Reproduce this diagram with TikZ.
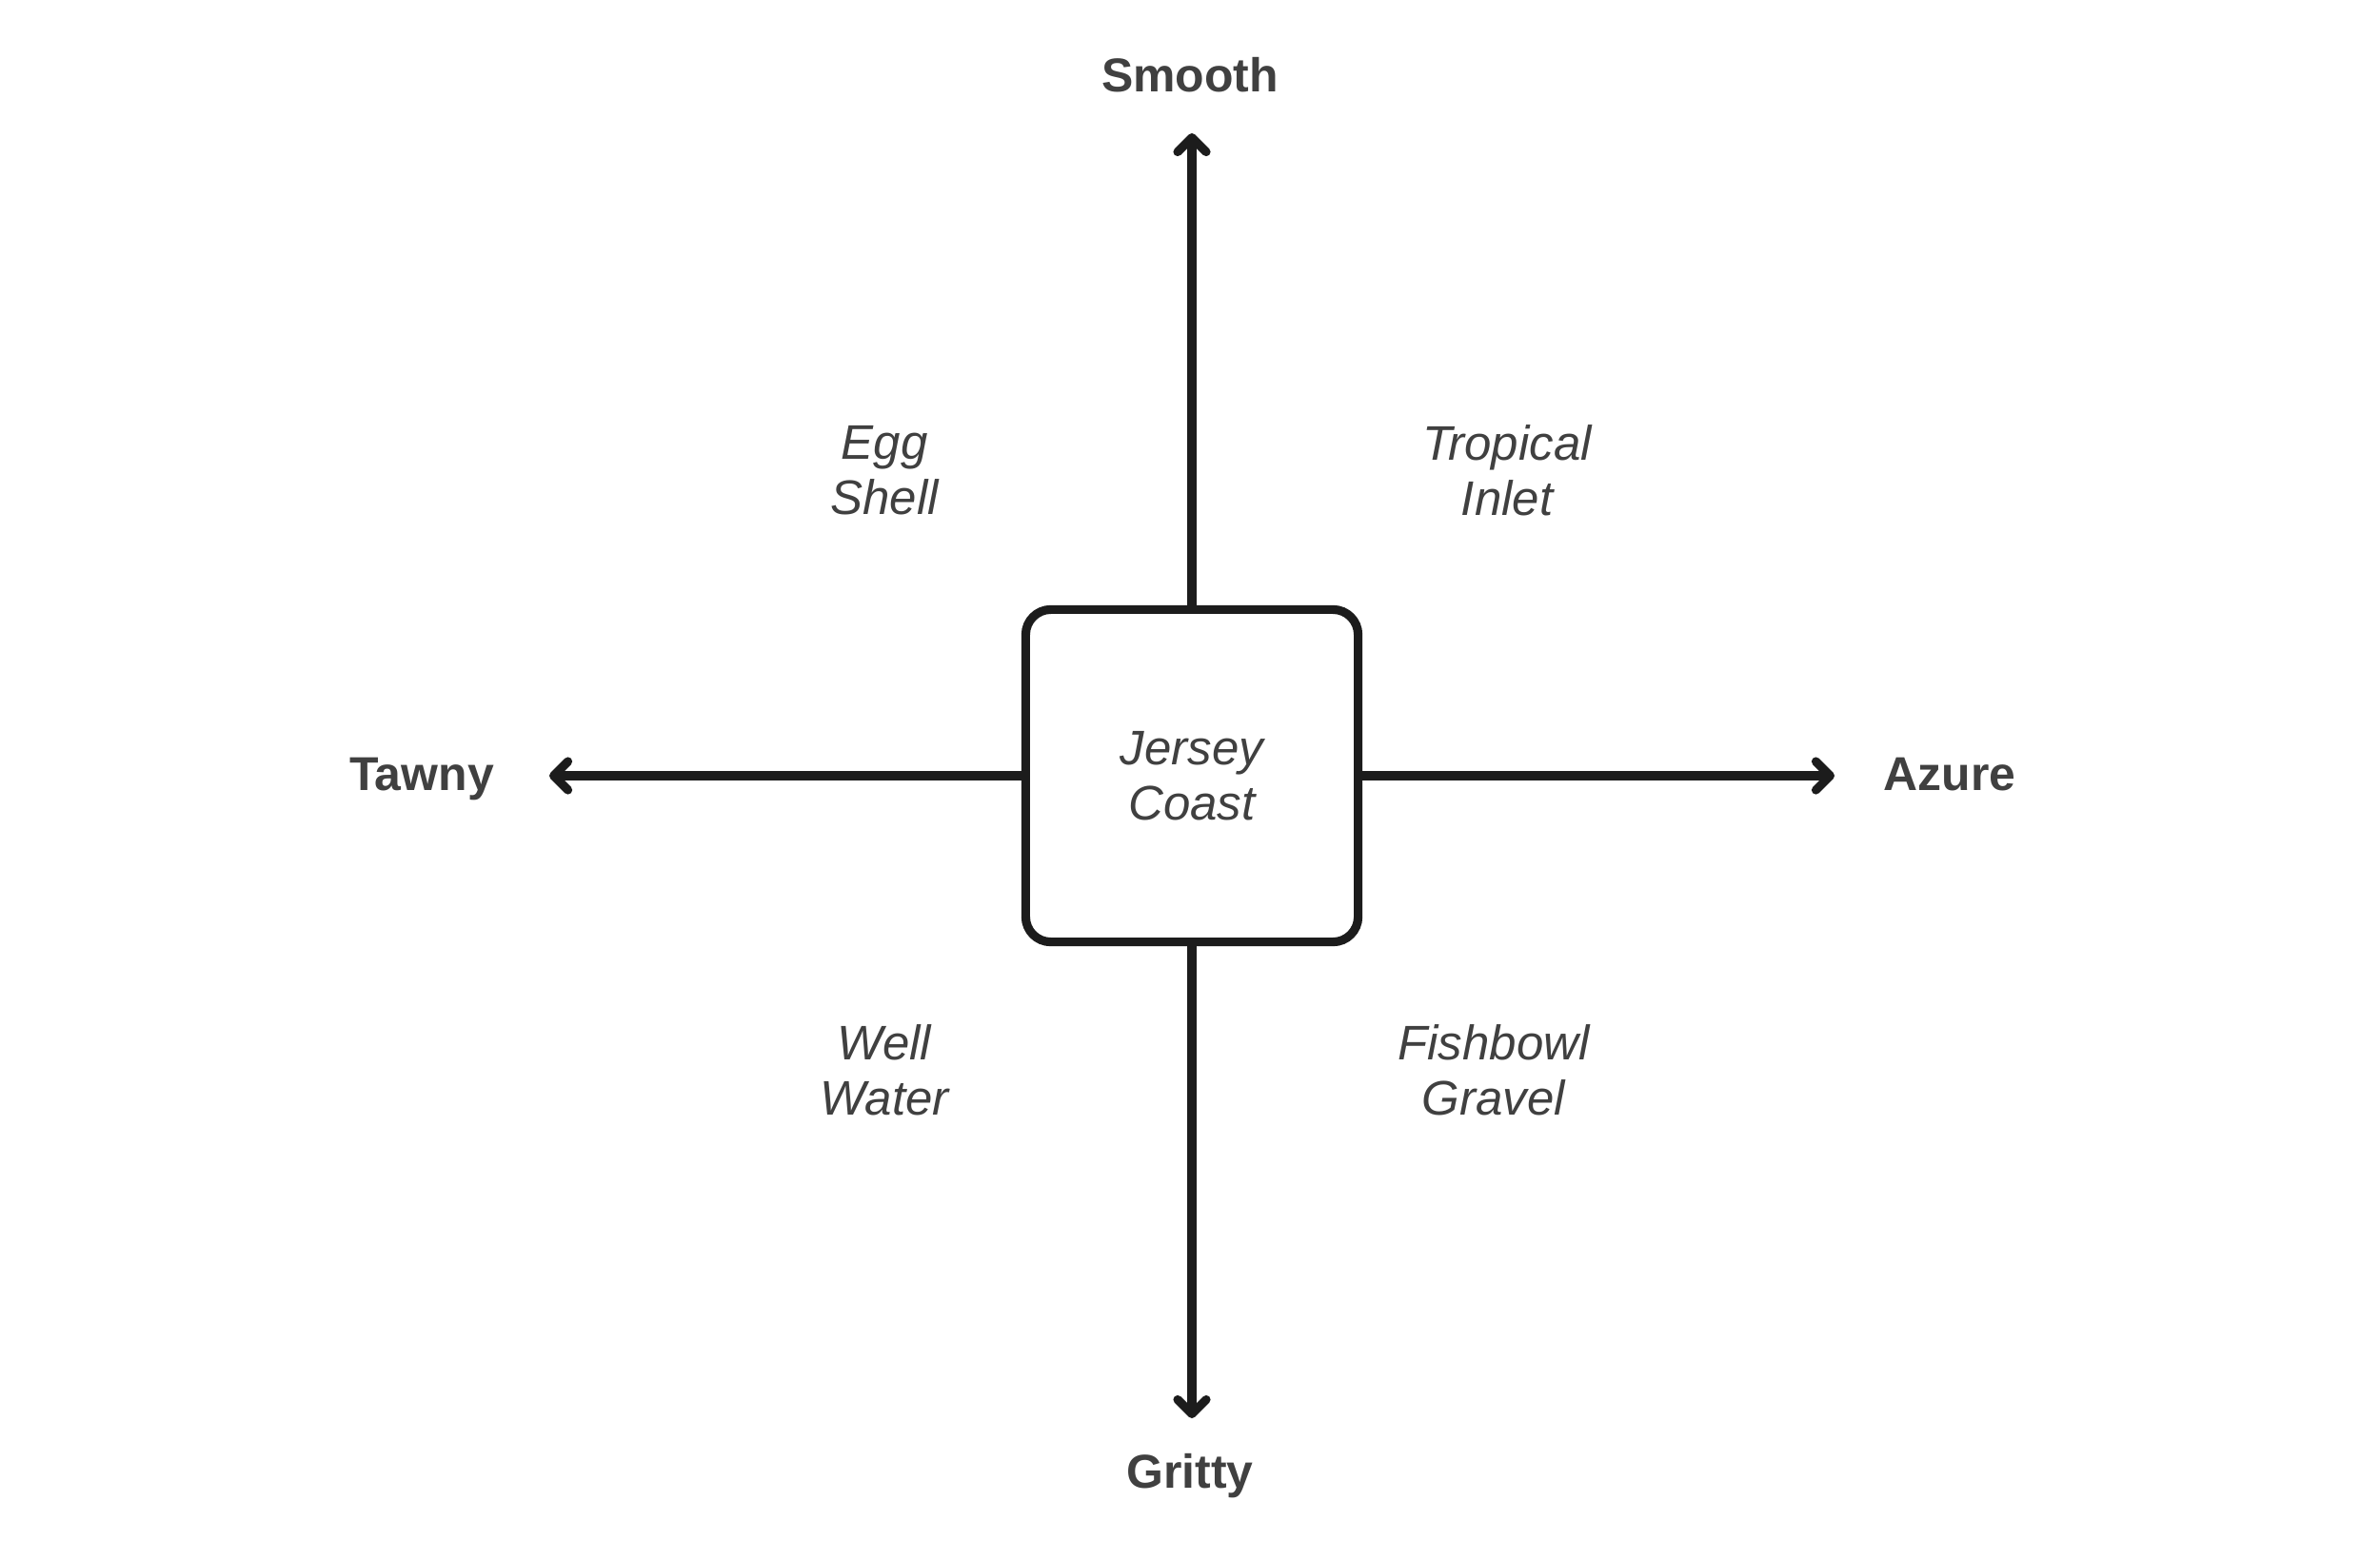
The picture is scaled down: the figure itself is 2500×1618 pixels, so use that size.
\documentclass[tikz,border=0pt]{standalone}
\usepackage{fontspec}
\setmainfont{Liberation Sans}
\usetikzlibrary{arrows.meta}
\definecolor{cInk} {RGB}{ 28, 28, 28}
\definecolor{cText}{RGB}{ 64, 64, 64}
\tikzset{
  hub/.style  = {draw=cInk, line width=2.6pt, rounded corners=7.5pt,
                 minimum width=3.49cm, minimum height=3.49cm, fill=white,
                 align=center, text=cText,
                 font=\fontsize{14.5}{16.5}\selectfont\itshape},
  pole/.style = {font=\fontsize{14.2}{16}\selectfont\bfseries, text=cText},
  zone/.style = {font=\fontsize{14.5}{16.5}\selectfont\itshape, text=cText,
                 align=center},
  axis/.style = {-{Straight Barb[length=1.5mm,width=3mm,round]}, cInk,
                 line width=2.6pt},
}

\begin{document}
\begin{tikzpicture}[x=0.01cm, y=-0.01cm]
  \useasboundingbox (0,0) rectangle (2500,1618);

  \node[hub] (jc) at (1252,815) {Jersey\\Coast};

  % ---- axis ends and pole labels ------------------------------------
  \coordinate (tipN) at (1252,140);
  \coordinate (tipS) at (1252,1490);
  \coordinate (tipW) at (577,815);
  \coordinate (tipE) at (1927,815);

  \node[pole, anchor=base] (smooth) at (1250,97)   {Smooth};
  \node[pole, anchor=base] (gritty) at (1250,1563) {Gritty};
  \node[pole, anchor=base] (tawny)  at (443,830)   {Tawny};
  \node[pole, anchor=base] (azure)  at (2048,830)  {Azure};

  \foreach \s/\t in {north/tipN, south/tipS, west/tipW, east/tipE}
    \draw[axis] (jc.\s) -- (\t);

  % ---- quadrants ----------------------------------------------------
  \node[zone] (egg)  at (929,494)   {Egg\\Shell};
  \node[zone] (trop) at (1583,494)  {Tropical\\Inlet};
  \node[zone] (well) at (929,1124)  {Well\\Water};
  \node[zone] (fish) at (1569,1124) {Fishbowl\\Gravel};

\end{tikzpicture}
\end{document}
